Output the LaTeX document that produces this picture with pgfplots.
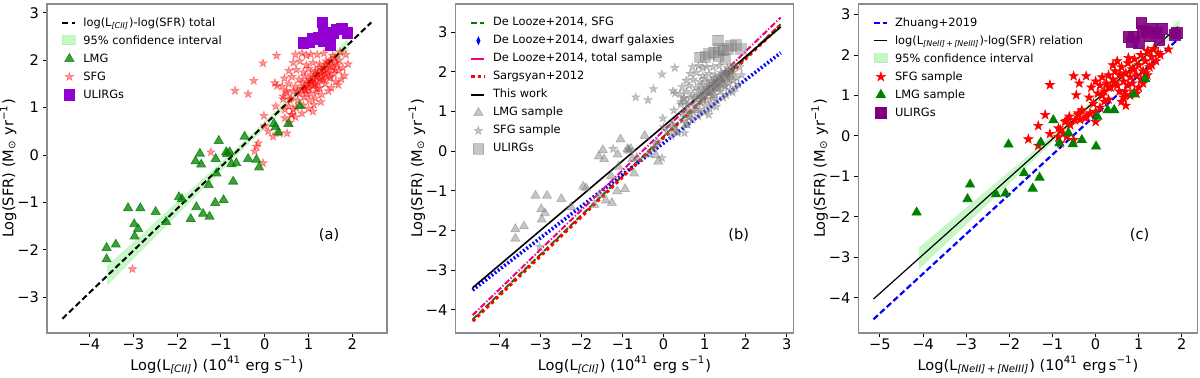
\documentclass[border=0pt]{standalone}
\usepackage{fontspec}
\setmainfont{DejaVu Sans}
\usepackage{pgfplots}
\usepackage{pgfplotstable}
\pgfplotsset{compat=1.18}

\definecolor{lgreen}{HTML}{90EE90}
\definecolor{mgreen}{HTML}{008000}
\definecolor{dviolet}{HTML}{9400D3}
\definecolor{mpurple}{HTML}{800080}
\definecolor{spine}{HTML}{8C8C8C}

% filled five-point star, like matplotlib's '*'
\pgfdeclareplotmark{fstar}{%
  \pgfpathmoveto{\pgfpointpolar{90}{\pgfplotmarksize}}%
  \pgfpathlineto{\pgfpointpolar{126}{0.38\pgfplotmarksize}}%
  \pgfpathlineto{\pgfpointpolar{162}{\pgfplotmarksize}}%
  \pgfpathlineto{\pgfpointpolar{198}{0.38\pgfplotmarksize}}%
  \pgfpathlineto{\pgfpointpolar{234}{\pgfplotmarksize}}%
  \pgfpathlineto{\pgfpointpolar{270}{0.38\pgfplotmarksize}}%
  \pgfpathlineto{\pgfpointpolar{306}{\pgfplotmarksize}}%
  \pgfpathlineto{\pgfpointpolar{342}{0.38\pgfplotmarksize}}%
  \pgfpathlineto{\pgfpointpolar{18}{\pgfplotmarksize}}%
  \pgfpathlineto{\pgfpointpolar{54}{0.38\pgfplotmarksize}}%
  \pgfpathclose
  \pgfusepathqfillstroke}

\newcommand{\limgline}[1]{\addlegendimage{legend image code/.code={\draw[#1] (1.5pt,0pt) -- (8pt,0pt);}}}
\newcommand{\limgmark}[1]{\addlegendimage{legend image code/.code={\draw[#1] plot coordinates {(5pt,0pt)};}}}
\newcommand{\limgpatch}[1]{\addlegendimage{legend image code/.code={\fill[#1] (1.5pt,-2pt) rectangle (8pt,2.5pt);}}}

\pgfplotsset{
  panel/.style={
    scale only axis, height=164.5pt,
    axis line style={spine, line width=0.6pt},
    tick align=outside, tick pos=left,
    major tick length=2pt,
    tick style={black, line width=0.5pt},
    tick label style={font=\fontsize{7.3}{8.5}\selectfont},
    xticklabel style={yshift=2.5pt},
    yticklabel style={xshift=1.5pt},
    label style={font=\fontsize{7.3}{8.5}\selectfont},
    xlabel style={at={(axis description cs:0.5,-0.1125)}, anchor=base},
    ylabel style={at={(axis description cs:-0.114,0.5)}, anchor=center},
    legend style={at={(0,1)}, anchor=north west, draw=none, fill=none,
      xshift=4pt, yshift=-3.8pt, font=\fontsize{5.7}{6.8}\selectfont,
      row sep=2.2pt, nodes={text height=4.5pt, text depth=1.3pt, inner sep=0.5pt},
      /tikz/every odd column/.append style={column sep=3pt}},
    legend cell align=left,
    ylabel={Log(SFR) (M\textsubscript{⊙} yr\textsuperscript{−1})},
  },
}

% ---- [CII] samples (panels a and b)
\pgfplotstableread{
x y
-3.61 -1.96
-3.61 -2.20
-3.40 -1.89
-3.12 -1.12
-2.84 -1.12
-2.98 -1.46
-2.89 -1.56
-2.97 -1.72
-2.49 -1.20
-2.25 -1.41
-1.96 -0.89
-1.89 -0.93
-1.69 -1.35
-1.56 -1.10
-1.41 -1.24
-1.26 -1.30
-1.28 -0.63
-1.13 -1.01
-0.94 -0.95
-1.58 -0.13
-1.48 0.03
-1.45 -0.20
-1.12 -0.08
-1.10 -0.39
-1.05 0.30
-0.88 0.06
-0.80 0.06
-0.76 -0.19
-0.65 -0.17
-0.72 -0.56
-0.46 0.39
-0.38 -0.08
-0.19 -0.10
-0.13 -0.26
0.21 0.66
0.25 0.59
0.31 0.48
0.54 0.66
0.80 1.04
-0.86 0.02
}\lmgA

\pgfplotstableread{
x y
-3.02 -2.41
-1.23 0.06
-0.84 0.04
-0.68 1.36
-0.38 1.29
-0.25 1.57
-0.04 1.94
0.27 2.10
0.23 1.52
0.28 1.46
-0.02 0.83
0.25 1.03
0.00 0.61
0.08 0.50
0.19 0.39
0.34 0.46
0.51 0.46
0.57 0.68
0.46 0.78
0.65 0.96
0.42 1.24
0.49 1.35
0.57 1.17
0.61 0.85
0.46 0.96
-0.19 0.18
-0.15 0.25
-0.23 0.08
-0.04 -0.17
1.10 0.92
0.70 2.12
0.85 2.15
0.95 2.10
1.05 2.13
1.20 2.12
1.35 2.15
1.55 2.10
1.72 2.17
1.85 2.12
1.90 1.92
0.65 1.95
0.80 1.98
0.95 1.90
1.10 1.95
1.25 1.92
1.40 1.98
1.50 1.88
1.62 1.95
1.78 1.85
0.55 1.78
0.72 1.80
0.88 1.75
1.00 1.82
1.15 1.78
1.28 1.72
1.42 1.80
1.58 1.72
1.70 1.78
1.82 1.68
0.45 1.62
0.62 1.65
0.78 1.60
0.92 1.66
1.05 1.60
1.18 1.65
1.32 1.58
1.48 1.62
1.62 1.55
1.75 1.60
0.40 1.45
0.55 1.50
0.70 1.45
0.85 1.52
0.98 1.45
1.12 1.48
1.25 1.42
1.38 1.50
1.52 1.42
1.68 1.48
0.50 1.32
0.65 1.35
0.80 1.30
0.93 1.36
1.05 1.30
1.18 1.33
1.30 1.28
1.45 1.35
0.42 1.18
0.60 1.20
0.75 1.15
0.90 1.22
1.02 1.16
1.15 1.20
1.28 1.12
0.55 1.03
0.72 1.00
0.88 1.05
1.00 0.98
1.12 1.06
0.62 0.85
0.85 0.88
0.70 0.80
0.90 1.40
1.00 1.50
1.10 1.60
1.20 1.70
1.30 1.80
1.40 1.90
1.50 2.00
1.60 2.05
1.00 1.40
1.10 1.45
1.20 1.55
1.30 1.65
1.40 1.70
0.95 1.55
1.25 1.85
1.35 1.75
1.05 1.70
1.15 1.75
1.25 1.60
1.35 1.85
1.45 1.75
1.55 1.85
1.50 1.65
1.60 1.80
1.65 1.90
1.15 1.50
0.95 1.30
1.05 1.55
1.20 1.40
1.45 1.95
1.70 2.00
0.85 1.40
0.75 1.35
1.35 1.60
}\sfgA

\pgfplotstableread{
x y
0.88 2.37
1.01 2.38
1.10 2.45
1.22 2.49
1.32 2.80
1.35 2.58
1.34 2.40
1.45 2.54
1.50 2.33
1.56 2.58
1.64 2.65
1.76 2.68
1.88 2.58
}\ulA

% ---- [NeII]+[NeIII] samples (panel c)
\pgfplotstableread{
x y
-4.15 -1.89
-2.91 -1.20
-2.97 -1.56
-2.31 -1.44
-2.09 -1.42
-2.02 -0.21
-1.66 -0.92
-1.46 -1.30
-1.30 -1.03
-1.27 -0.16
-0.98 0.39
-0.84 -0.18
-0.63 0.07
-0.53 -0.20
-0.32 -0.10
0.01 -0.26
0.04 0.48
0.28 0.64
0.43 0.64
0.88 1.03
1.15 1.41
}\lmgC

\pgfplotstableread{
x y
-1.56 -0.08
-1.33 0.25
-1.33 -0.24
-1.17 0.52
-1.06 1.26
-1.06 0.05
-0.86 -0.03
-0.86 0.19
-0.82 -0.18
-0.82 0.15
-0.71 0.35
-0.68 0.38
-0.61 0.48
-0.59 0.27
-0.75 0.06
-0.67 -0.02
-0.51 -0.10
-0.51 1.48
-0.48 0.39
-0.45 1.01
-0.40 0.52
-0.40 0.56
-0.38 1.30
-0.36 0.40
-0.32 0.64
-0.24 0.44
-0.22 1.48
-0.21 0.48
-0.13 0.56
0.00 0.35
1.69 2.14
-0.15 0.95
-0.10 1.20
0.00 1.35
0.05 1.05
0.10 1.25
0.15 1.45
0.20 1.10
0.25 1.30
0.30 1.50
0.35 1.20
0.40 1.40
0.45 1.60
0.50 1.25
0.55 1.50
0.60 1.70
0.65 1.35
0.70 1.55
0.75 1.80
0.80 1.45
0.85 1.65
0.90 1.90
0.95 1.50
1.00 1.75
1.05 2.00
1.10 1.60
1.15 1.85
1.20 2.10
1.25 1.70
1.30 1.95
1.35 2.15
1.40 1.85
1.45 2.05
1.50 2.00
0.60 0.85
0.65 0.95
0.70 0.75
0.80 1.00
0.90 1.10
1.00 1.20
0.55 1.10
0.10 0.70
0.00 0.60
0.30 0.90
0.75 1.25
1.05 1.40
1.20 1.50
1.30 1.75
0.40 1.75
0.50 1.85
0.20 0.85
-0.05 0.80
0.85 1.30
0.95 1.05
0.76 1.93
0.88 1.64
0.57 1.52
1.22 2.08
0.68 1.10
0.68 1.00
1.10 1.30
0.30 1.20
0.15 1.00
0.45 1.30
1.15 1.55
}\sfgC

\pgfplotstableread{
x y
0.76 2.44
0.84 2.33
0.88 2.46
1.00 2.29
1.06 2.79
1.10 2.60
1.19 2.58
1.26 2.46
1.30 2.65
1.42 2.54
1.48 2.37
1.54 2.65
1.84 2.50
1.88 2.54
}\ulC

\begin{document}
\begin{tikzpicture}
\useasboundingbox (0pt,-22pt) rectangle (600pt,166.5pt);

% ================= (a)
\begin{axis}[panel, at={(23.5pt,0pt)}, anchor=south west, width=170pt,
  xmin=-4.97, xmax=2.79, ymin=-3.76, ymax=3.19,
  xtick={-4,...,2}, xticklabels={−4,−3,−2,−1,0,1,2},
  ytick={-3,...,3}, yticklabels={−3,−2,−1,0,1,2,3},
  xlabel={Log(L\textsubscript{\textit{[CII]}}) (10\textsuperscript{41} erg s\textsuperscript{−1})},
]
\limgline{black, line width=1pt, dash pattern=on 3pt off 1.6pt}
\addlegendentry{log(L\textsubscript{\textit{[CII]}})-log(SFR) total}
\limgpatch{lgreen, opacity=0.5}
\addlegendentry{95\% confidence interval}
\limgmark{mark=triangle*, mark size=2.6pt, mark options={mgreen, fill=mgreen, opacity=0.75}}
\addlegendentry{LMG}
\limgmark{mark=fstar, mark size=2.2pt, mark options={red, fill=red, opacity=0.4, line width=0.3pt}}
\addlegendentry{SFG}
\limgmark{mark=square*, mark size=2.6pt, mark options={dviolet, fill=dviolet}}
\addlegendentry{ULIRGs}

\addplot[forget plot, fill=lgreen, fill opacity=0.5, draw=none] coordinates {
  (-3.6,-2.34) (-3,-1.84) (-2,-0.99) (-1,-0.16) (0,0.71) (1,1.62) (1.9,2.46)
  (1.9,2.20) (1,1.44) (0,0.57) (-1,-0.34) (-2,-1.27) (-3,-2.20) (-3.6,-2.76)} -- cycle;
\addplot[forget plot, only marks, mark=fstar, mark size=2.2pt,
  mark options={red, fill=red, opacity=0.4, line width=0.3pt}] table {\sfgA};
\addplot[forget plot, only marks, mark=triangle*, mark size=2.6pt,
  mark options={mgreen, fill=mgreen, opacity=0.75}] table {\lmgA};
\addplot[forget plot, only marks, mark=square*, mark size=2.6pt,
  mark options={dviolet, fill=dviolet}] table {\ulA};
\addplot[forget plot, black, line width=1pt, dash pattern=on 3pt off 1.6pt]
  coordinates {(-4.62,-3.46) (2.43,2.80)};
\node[font=\fontsize{7.3}{8.5}\selectfont] at (axis cs:1.47,-1.68) {(a)};
\end{axis}

% ================= (b)
\begin{axis}[panel, at={(227.7pt,0pt)}, anchor=south west, width=169pt,
  xmin=-5.07, xmax=3.16, ymin=-4.58, ymax=3.71,
  xtick={-4,...,3}, xticklabels={−4,−3,−2,−1,0,1,2,3},
  ytick={-4,...,3}, yticklabels={−4,−3,−2,−1,0,1,2,3},
  xlabel={Log(L\textsubscript{\textit{[CII]}}) (10\textsuperscript{41} erg s\textsuperscript{−1})},
]
\limgline{mgreen, line width=1pt, dash pattern=on 3pt off 1.5pt}
\addlegendentry{De Looze+2014, SFG}
\limgmark{mark=diamond*, mark size=1.8pt, mark options={blue, fill=blue, xscale=0.6}}
\addlegendentry{De Looze+2014, dwarf galaxies}
\limgline{magenta, line width=1pt}
\addlegendentry{De Looze+2014, total sample}
\limgline{red, line width=1.6pt, dash pattern=on 1.6pt off 1.6pt}
\addlegendentry{Sargsyan+2012}
\limgline{black, line width=0.8pt}
\addlegendentry{This work}
\limgmark{mark=triangle*, mark size=2.6pt, mark options={gray, fill=gray, opacity=0.45}}
\addlegendentry{LMG sample}
\limgmark{mark=fstar, mark size=2.2pt, mark options={gray, fill=gray, opacity=0.45, line width=0.3pt}}
\addlegendentry{SFG sample}
\limgmark{mark=square*, mark size=2.6pt, mark options={gray, fill=gray, opacity=0.45}}
\addlegendentry{ULIRGs}

\addplot[forget plot, only marks, mark=triangle*, mark size=2.6pt,
  mark options={gray, fill=gray, opacity=0.45}] table {\lmgA};
\addplot[forget plot, only marks, mark=fstar, mark size=2.2pt,
  mark options={gray, fill=gray, opacity=0.45, line width=0.3pt}] table {\sfgA};
\addplot[forget plot, only marks, mark=square*, mark size=2.6pt,
  mark options={gray, fill=gray, opacity=0.45}] table {\ulA};
\addplot[forget plot, mgreen, line width=1pt, dash pattern=on 3pt off 1.5pt]
  coordinates {(-4.65,-4.24) (2.85,3.20)};
\addplot[forget plot, blue, line width=1.8pt, dash pattern=on 0.9pt off 1.1pt]
  coordinates {(-4.65,-3.50) (2.85,2.48)};
\addplot[forget plot, magenta, line width=1pt, dash pattern=on 3pt off 1pt on 0.6pt off 1pt]
  coordinates {(-4.65,-4.13) (2.85,3.37)};
\addplot[forget plot, red, line width=1.6pt, dash pattern=on 1.6pt off 1.6pt]
  coordinates {(-4.65,-4.28) (2.85,3.18)};
\addplot[forget plot, black, line width=0.8pt]
  coordinates {(-4.65,-3.44) (2.85,3.13)};
\node[font=\fontsize{7.3}{8.5}\selectfont] at (axis cs:1.83,-2.11) {(b)};
\end{axis}

% ================= (c)
\begin{axis}[panel, at={(429.2pt,0pt)}, anchor=south west, width=169.5pt,
  xmin=-5.5, xmax=2.36, ymin=-4.87, ymax=3.26,
  xtick={-5,...,2}, xticklabels={−5,−4,−3,−2,−1,0,1,2},
  ytick={-4,...,3}, yticklabels={−4,−3,−2,−1,0,1,2,3},
  xlabel={Log(L\textsubscript{\textit{[NeII]}\,+\,\textit{[NeIII]}}) (10\textsuperscript{41} erg\,s\textsuperscript{−1})},
]
\limgline{blue, line width=1.1pt, dash pattern=on 3pt off 1.5pt}
\addlegendentry{Zhuang+2019}
\limgline{black, line width=0.6pt}
\addlegendentry{log(L\textsubscript{\textit{[NeII]}\,+\,\textit{[NeIII]}})-log(SFR) relation}
\limgpatch{lgreen, opacity=0.5}
\addlegendentry{95\% confidence interval}
\limgmark{mark=fstar, mark size=2.4pt, mark options={red, fill=red, line width=0.3pt}}
\addlegendentry{SFG sample}
\limgmark{mark=triangle*, mark size=2.6pt, mark options={mgreen, fill=mgreen}}
\addlegendentry{LMG sample}
\limgmark{mark=square*, mark size=2.7pt, mark options={mpurple, fill=mpurple}}
\addlegendentry{ULIRGs}

\addplot[forget plot, fill=lgreen, fill opacity=0.5, draw=none] coordinates {
  (-4.1,-2.76) (-3,-1.77) (-2,-0.88) (-1,0.02) (0,0.95) (1,1.92) (1.95,2.88)
  (1.95,2.60) (1,1.74) (0,0.81) (-1,-0.16) (-2,-1.18) (-3,-2.19) (-4.1,-3.30)} -- cycle;
\addplot[forget plot, blue, line width=1.1pt, dash pattern=on 3pt off 1.5pt]
  coordinates {(-5.15,-4.53) (1.96,2.44)};
\addplot[forget plot, black, line width=0.6pt]
  coordinates {(-5.15,-4.03) (1.91,2.70)};
\addplot[forget plot, only marks, mark=fstar, mark size=2.4pt,
  mark options={red, fill=red, line width=0.3pt}] table {\sfgC};
\addplot[forget plot, only marks, mark=triangle*, mark size=2.6pt,
  mark options={mgreen, fill=mgreen}] table {\lmgC};
\addplot[forget plot, only marks, mark=square*, mark size=2.7pt,
  mark options={mpurple, fill=mpurple, opacity=0.9}] table {\ulC};
\node[font=\fontsize{7.3}{8.5}\selectfont] at (axis cs:1.02,-2.45) {(c)};
\end{axis}
\end{tikzpicture}
\end{document}
